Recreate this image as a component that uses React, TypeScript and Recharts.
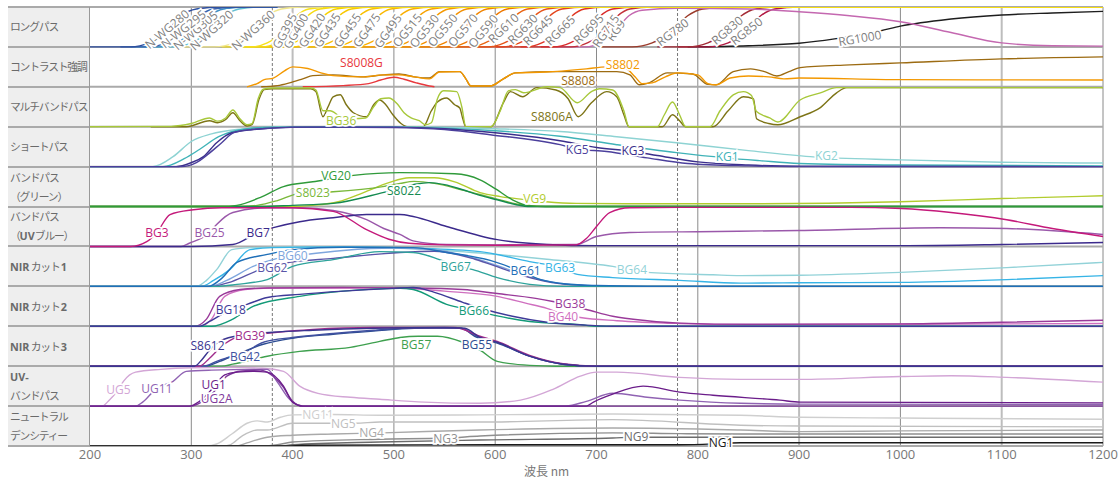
import React from 'react';
import { LineChart, Line, XAxis, YAxis, ReferenceLine, ReferenceDot } from 'recharts';

type Pt = [number, number];
interface Curve { name: string; pts: Pt[] }

// wavelength axis (nm)
const wavelengthTicks = [200, 300, 400, 500, 600, 700, 800, 900, 1000, 1100, 1200];

const rowTitles = [
  'ロングパス',
  'コントラスト強調',
  'マルチバンドパス',
  'ショートパス',
  'バンドパス\n（グリーン）',
  'バンドパス\n（UVブルー）',
  'NIR カット 1',
  'NIR カット 2',
  'NIR カット 3',
  'UV-\nバンドパス',
  'ニュートラル\nデンシティー',
];

// transmission curves, [wavelength nm, transmission %]
const longPass: Curve[] = [
  { name: 'N-WG280', pts: [[200, 0], [240, 0], [258, 10], [276, 42], [290, 78], [305, 95], [330, 100], [385, 100]] },
  { name: 'N-WG295', pts: [[230, 0], [258, 0], [275, 10], [294, 42], [308, 78], [322, 95], [345, 100], [385, 100]] },
  { name: 'N-WG305', pts: [[240, 0], [268, 0], [285, 10], [304, 42], [318, 78], [332, 95], [355, 100], [385, 100]] },
  { name: 'N-WG320', pts: [[250, 0], [282, 0], [300, 10], [319, 42], [333, 78], [347, 95], [368, 100], [385, 100]] },
  { name: 'N-WG360', pts: [[290, 0], [323, 0], [342, 10], [361, 42], [375, 78], [389, 95], [410, 100], [430, 100]] },
  { name: 'GG395', pts: [[330, 0], [360, 0], [375, 10], [392, 42], [404, 78], [416, 95], [440, 100], [1200, 100]] },
  { name: 'GG400', pts: [[340, 0], [370, 0], [385, 10], [403, 42], [415, 78], [427, 95], [450, 100], [1200, 100]] },
  { name: 'GG420', pts: [[355, 0], [385, 0], [401, 10], [419, 42], [431, 78], [443, 95], [465, 100], [1200, 100]] },
  { name: 'GG435', pts: [[370, 0], [400, 0], [416, 10], [434, 42], [446, 78], [458, 95], [480, 100], [1200, 100]] },
  { name: 'GG455', pts: [[390, 0], [420, 0], [436, 10], [454, 42], [466, 78], [478, 95], [500, 100], [1200, 100]] },
  { name: 'GG475', pts: [[410, 0], [440, 0], [455, 10], [473, 42], [485, 78], [497, 95], [520, 100], [1200, 100]] },
  { name: 'GG495', pts: [[430, 0], [460, 0], [476, 10], [494, 42], [506, 78], [518, 95], [540, 100], [1200, 100]] },
  { name: 'OG515', pts: [[450, 0], [480, 0], [495, 10], [513, 42], [525, 78], [537, 95], [560, 100], [1200, 100]] },
  { name: 'OG530', pts: [[465, 0], [495, 0], [512, 10], [530, 42], [542, 78], [554, 95], [575, 100], [1200, 100]] },
  { name: 'OG550', pts: [[485, 0], [515, 0], [530, 10], [548, 42], [560, 78], [572, 95], [595, 100], [1200, 100]] },
  { name: 'OG570', pts: [[505, 0], [535, 0], [550, 10], [568, 42], [580, 78], [592, 95], [615, 100], [1200, 100]] },
  { name: 'OG590', pts: [[525, 0], [555, 0], [570, 10], [588, 42], [600, 78], [612, 95], [635, 100], [1200, 100]] },
  { name: 'RG610', pts: [[545, 0], [575, 0], [590, 10], [608, 42], [620, 78], [632, 95], [655, 100], [1200, 100]] },
  { name: 'RG630', pts: [[560, 0], [592, 0], [609, 10], [627, 42], [639, 78], [651, 95], [675, 100], [1200, 100]] },
  { name: 'RG645', pts: [[575, 0], [607, 0], [624, 10], [642, 42], [654, 78], [666, 95], [690, 100], [1200, 100]] },
  { name: 'RG665', pts: [[600, 0], [630, 0], [646, 10], [664, 42], [676, 78], [688, 95], [710, 100], [1200, 100]] },
  { name: 'RG695', pts: [[625, 0], [657, 0], [674, 10], [692, 42], [704, 78], [716, 95], [740, 100], [1200, 100]] },
  { name: 'RG715', pts: [[645, 0], [675, 0], [691, 10], [709, 42], [721, 78], [733, 95], [755, 100], [1200, 100]] },
  { name: 'RG9', pts: [[660, 0], [690, 0], [703, 10], [719, 42], [732, 78], [745, 92], [780, 97], [850, 95], [900, 88], [950, 78], [1000, 63], [1050, 36], [1100, 10], [1150, 3], [1200, 2]] },
  { name: 'RG780', pts: [[700, 0], [735, 0], [755, 10], [775, 42], [790, 78], [805, 95], [830, 100], [1200, 100]] },
  { name: 'RG830', pts: [[760, 0], [790, 0], [810, 10], [829, 42], [843, 78], [857, 95], [880, 100], [1200, 100]] },
  { name: 'RG850', pts: [[780, 0], [810, 0], [830, 10], [848, 42], [862, 78], [876, 95], [900, 100], [1200, 100]] },
  { name: 'RG1000', pts: [[790, 0], [850, 3], [900, 9], [935, 20], [980, 40], [1000, 52], [1050, 70], [1100, 80], [1150, 85], [1200, 89]] },
];

const contrast: Curve[] = [
  { name: 'S8008G', pts: [[410, 0], [450, 3], [475, 8], [487, 17], [500, 24], [510, 19], [522, 10], [535, 2], [540, 0]] },
  { name: 'S8808', pts: [[369, 0], [385, 3], [397, 10], [410, 20], [420, 28], [440, 30], [470, 25], [490, 30], [505, 32], [520, 25], [535, 22], [545, 38], [565, 38], [571, 20], [576, 2], [595, 2], [608, 20], [620, 35], [660, 38], [700, 38], [720, 38], [733, 30], [742, 5], [752, 10], [770, 35], [795, 32], [810, 6], [818, 5], [835, 38], [852, 45], [866, 38], [878, 27], [890, 38], [901, 48], [950, 55], [1000, 60], [1100, 70], [1200, 75]] },
  { name: 'S8802', pts: [[355, 0], [365, 8], [372, 18], [381, 22], [392, 40], [400, 50], [415, 46], [428, 35], [440, 28], [470, 25], [490, 30], [505, 30], [520, 25], [535, 20], [545, 37], [565, 38], [571, 20], [576, 2], [595, 2], [608, 20], [620, 35], [650, 37], [690, 45], [710, 50], [728, 47], [738, 25], [745, 8], [755, 10], [768, 25], [780, 35], [800, 30], [810, 8], [818, 5], [832, 22], [850, 27], [870, 25], [885, 20], [900, 22], [1000, 18], [1200, 17]] },
];

const multiBand: Curve[] = [
  { name: 'S8806A', pts: [[260, 0], [295, 0], [318, 15], [326, 10], [334, 18], [341, 35], [348, 15], [355, 2], [360, 5], [367, 70], [372, 93], [380, 95], [418, 95], [423, 88], [430, 25], [435, 50], [440, 75], [447, 80], [453, 55], [460, 35], [473, 25], [480, 55], [486, 67], [492, 55], [499, 30], [507, 8], [513, 0], [529, 0], [537, 40], [543, 62], [552, 72], [560, 55], [565, 47], [568, 20], [571, 0], [596, 0], [608, 60], [615, 88], [627, 75], [641, 98], [660, 92], [672, 70], [682, 25], [695, 60], [710, 88], [720, 75], [727, 30], [732, 0], [765, 0], [775, 30], [782, 15], [788, 0], [815, 0], [830, 40], [845, 75], [855, 70], [858, 20], [870, 8], [879, 5], [901, 25], [921, 48], [937, 85], [947, 98], [1200, 98]] },
  { name: 'BG36', pts: [[200, 0], [280, 1], [300, 8], [318, 22], [326, 14], [334, 22], [341, 42], [348, 20], [355, 5], [360, 8], [366, 70], [371, 94], [380, 97], [418, 97], [423, 92], [430, 40], [437, 40], [447, 26], [460, 20], [472, 22], [480, 50], [487, 70], [495, 72], [503, 58], [510, 35], [517, 22], [525, 15], [531, 5], [537, 10], [543, 70], [549, 90], [562, 88], [567, 50], [571, 0], [596, 0], [605, 40], [613, 90], [620, 93], [628, 85], [651, 100], [664, 98], [681, 60], [695, 88], [703, 95], [716, 92], [727, 40], [732, 0], [760, 0], [767, 30], [775, 62], [782, 30], [788, 0], [812, 0], [822, 40], [835, 80], [845, 88], [853, 78], [858, 38], [871, 22], [879, 12], [901, 67], [921, 85], [937, 98], [1200, 98]] },
];

const shortPass: Curve[] = [
  { name: 'KG2', pts: [[200, 0], [262, 0], [282, 25], [300, 63], [320, 82], [345, 93], [370, 98], [400, 100], [500, 100], [600, 95], [664, 88], [720, 75], [779, 60], [850, 40], [911, 25], [1000, 17], [1100, 11], [1200, 9]] },
  { name: 'KG1', pts: [[200, 0], [272, 0], [293, 20], [308, 43], [327, 75], [355, 95], [380, 99], [500, 99], [600, 90], [664, 76], [720, 55], [779, 35], [827, 22], [861, 15], [900, 8], [1000, 4], [1200, 2]] },
  { name: 'KG3', pts: [[200, 0], [285, 0], [300, 10], [312, 25], [325, 60], [340, 85], [370, 95], [400, 99], [500, 99], [550, 95], [600, 85], [664, 65], [700, 48], [736, 38], [760, 28], [800, 12], [850, 4], [900, 1], [1200, 0]] },
  { name: 'KG5', pts: [[200, 0], [290, 0], [305, 10], [316, 30], [330, 60], [342, 85], [360, 93], [377, 96], [420, 99], [500, 98], [550, 93], [595, 80], [664, 55], [681, 44], [710, 38], [750, 22], [790, 8], [850, 2], [900, 0], [1200, 0]] },
];

const greenBand: Curve[] = [
  { name: 'VG9', pts: [[200, 0], [395, 0], [420, 3], [445, 12], [470, 35], [495, 60], [515, 72], [540, 72], [560, 62], [585, 35], [605, 25], [627, 18], [650, 12], [680, 8], [750, 7], [850, 7], [1000, 12], [1100, 20], [1200, 27]] },
  { name: 'S8023', pts: [[200, 0], [350, 0], [365, 3], [385, 15], [407, 33], [440, 37], [489, 50], [506, 58], [520, 63], [540, 58], [570, 40], [600, 20], [625, 5], [650, 0], [1200, 0]] },
  { name: 'S8022', pts: [[200, 0], [370, 0], [400, 3], [440, 8], [489, 35], [519, 55], [535, 60], [550, 55], [568, 42], [585, 28], [602, 17], [620, 5], [635, 0], [1200, 0]] },
  { name: 'VG20', pts: [[200, 0], [330, 0], [345, 3], [370, 25], [391, 50], [420, 62], [460, 78], [506, 85], [560, 82], [585, 67], [600, 45], [617, 17], [632, 3], [650, 0], [1200, 0]] },
];

const uvBlueBand: Curve[] = [
  { name: 'BG25', pts: [[200, 0], [290, 0], [298, 8], [318, 35], [325, 55], [341, 85], [375, 97], [407, 97], [440, 90], [473, 67], [490, 45], [506, 30], [519, 14], [552, 5], [600, 4], [680, 5], [700, 25], [733, 35], [800, 37], [900, 40], [1039, 47], [1105, 45], [1200, 30]] },
  { name: 'BG7', pts: [[200, 0], [300, 0], [341, 5], [366, 35], [381, 47], [407, 62], [440, 72], [473, 80], [506, 80], [519, 75], [552, 50], [602, 17], [651, 5], [700, 2], [1000, 2], [1100, 5], [1200, 10]] },
  { name: 'BG3', pts: [[200, 0], [240, 0], [256, 12], [266, 35], [279, 80], [302, 92], [330, 97], [400, 97], [440, 88], [473, 42], [495, 18], [515, 8], [550, 4], [600, 3], [680, 4], [690, 20], [700, 50], [713, 85], [733, 97], [800, 98], [950, 98], [1001, 95], [1050, 85], [1105, 67], [1150, 45], [1200, 25]] },
];

const nirCut1: Curve[] = [
  { name: 'BG64', pts: [[200, 0], [305, 0], [315, 15], [325, 42], [340, 92], [360, 97], [400, 99], [480, 97], [550, 90], [651, 68], [716, 50], [750, 35], [815, 29], [842, 27], [901, 28], [1000, 35], [1105, 47], [1200, 60]] },
  { name: 'BG63', pts: [[200, 0], [310, 0], [322, 15], [338, 42], [358, 92], [380, 97], [450, 99], [520, 96], [585, 87], [634, 62], [664, 47], [681, 30], [716, 22], [782, 15], [842, 8], [900, 9], [1000, 10], [1105, 17], [1200, 27]] },
  { name: 'BG60', pts: [[200, 0], [318, 0], [335, 15], [361, 50], [385, 70], [413, 80], [450, 90], [500, 96], [540, 92], [580, 70], [610, 45], [640, 20], [670, 6], [720, 0], [1200, 0]] },
  { name: 'BG62', pts: [[200, 0], [320, 0], [340, 12], [368, 42], [382, 52], [397, 60], [440, 70], [506, 85], [540, 88], [580, 68], [610, 42], [640, 18], [670, 5], [720, 0], [1200, 0]] },
  { name: 'BG67', pts: [[200, 0], [325, 0], [345, 5], [375, 17], [400, 50], [440, 67], [486, 87], [519, 85], [545, 67], [561, 52], [578, 42], [602, 22], [634, 5], [667, 0], [1200, 0]] },
  { name: 'BG61', pts: [[200, 0], [317, 0], [330, 20], [345, 60], [375, 80], [400, 92], [450, 98], [519, 97], [552, 85], [595, 65], [618, 45], [645, 17], [670, 6], [700, 2], [750, 0], [1200, 0]] },
];

const nirCut2: Curve[] = [
  { name: 'BG40', pts: [[200, 0], [308, 0], [320, 18], [333, 75], [353, 92], [380, 96], [500, 96], [550, 88], [602, 75], [630, 58], [651, 45], [667, 30], [684, 22], [720, 14], [782, 7], [850, 4], [1000, 5], [1200, 7]] },
  { name: 'BG38', pts: [[200, 0], [303, 0], [315, 18], [328, 75], [348, 92], [375, 96], [450, 97], [520, 96], [568, 92], [602, 82], [640, 70], [657, 62], [690, 42], [716, 25], [750, 14], [782, 8], [850, 5], [1000, 6], [1100, 10], [1200, 15]] },
  { name: 'BG66', pts: [[200, 0], [320, 0], [341, 18], [361, 50], [407, 75], [450, 88], [506, 95], [519, 92], [552, 55], [579, 40], [602, 26], [634, 12], [684, 4], [700, 0], [1200, 0]] },
  { name: 'BG18', pts: [[200, 0], [308, 0], [318, 12], [339, 42], [355, 55], [375, 72], [407, 80], [450, 88], [500, 95], [519, 97], [540, 85], [568, 60], [590, 42], [617, 25], [651, 10], [690, 3], [720, 0], [1200, 0]] },
];

const nirCut3: Curve[] = [
  { name: 'BG57', pts: [[200, 0], [330, 0], [341, 5], [375, 25], [407, 37], [457, 47], [486, 62], [506, 72], [524, 75], [543, 75], [568, 60], [585, 40], [602, 12], [634, 2], [660, 0], [1200, 0]] },
  { name: 'BG55', pts: [[200, 0], [314, 0], [328, 12], [345, 30], [371, 55], [400, 70], [440, 80], [480, 88], [520, 95], [565, 96], [582, 72], [602, 58], [634, 25], [667, 5], [700, 0], [1200, 0]] },
  { name: 'BG42', pts: [[200, 0], [312, 0], [325, 12], [340, 25], [353, 35], [371, 60], [400, 72], [440, 82], [480, 90], [520, 96], [565, 95], [585, 72], [602, 60], [634, 25], [667, 5], [700, 0], [1200, 0]] },
  { name: 'BG39', pts: [[200, 0], [308, 0], [318, 20], [330, 50], [345, 72], [358, 77], [385, 85], [420, 92], [480, 97], [560, 97], [585, 75], [602, 62], [634, 27], [667, 6], [700, 0], [1200, 0]] },
  { name: 'S8612', pts: [[200, 0], [303, 0], [310, 15], [318, 40], [330, 65], [350, 78], [380, 85], [420, 90], [480, 95], [550, 97], [570, 95], [585, 72], [602, 60], [634, 25], [667, 5], [700, 0], [1200, 0]] },
];

const uvBand: Curve[] = [
  { name: 'UG5', pts: [[200, 0], [212, 0], [218, 12], [228, 42], [233, 62], [245, 85], [270, 92], [300, 96], [330, 97], [370, 95], [391, 87], [407, 50], [425, 32], [457, 22], [486, 17], [530, 10], [585, 7], [625, 15], [657, 42], [684, 75], [700, 85], [720, 85], [782, 72], [842, 67], [901, 67], [1000, 74], [1050, 76], [1105, 72], [1200, 60]] },
  { name: 'UG11', pts: [[200, 0], [245, 0], [252, 10], [266, 45], [282, 62], [295, 87], [320, 90], [375, 92], [385, 60], [397, 17], [405, 3], [415, 0], [670, 0], [690, 12], [716, 32], [750, 22], [782, 15], [842, 7], [900, 5], [1200, 4]] },
  { name: 'UG2A', pts: [[200, 0], [300, 0], [310, 10], [322, 35], [335, 75], [350, 88], [368, 90], [378, 80], [390, 50], [400, 12], [410, 0], [1200, 0]] },
  { name: 'UG1', pts: [[200, 0], [298, 0], [308, 12], [322, 47], [333, 78], [345, 85], [361, 87], [375, 85], [391, 50], [400, 10], [410, 0], [690, 0], [697, 10], [716, 30], [746, 50], [782, 35], [815, 27], [881, 15], [901, 10], [1200, 8]] },
];

const neutral: Curve[] = [
  { name: 'NG11', pts: [[200, 0], [315, 0], [325, 5], [340, 30], [355, 57], [365, 63], [375, 60], [388, 72], [400, 78], [440, 79], [486, 77], [585, 78], [716, 80], [842, 77], [901, 72], [1000, 70], [1200, 67]] },
  { name: 'NG5', pts: [[200, 0], [330, 0], [338, 3], [350, 25], [365, 40], [375, 40], [400, 57], [462, 57], [486, 60], [585, 60], [716, 66], [842, 52], [901, 50], [1200, 48]] },
  { name: 'NG4', pts: [[200, 0], [345, 0], [355, 8], [375, 22], [400, 27], [440, 30], [489, 33], [585, 40], [716, 45], [842, 40], [901, 36], [1000, 38], [1200, 40]] },
  { name: 'NG3', pts: [[200, 0], [370, 0], [385, 3], [400, 10], [486, 17], [551, 20], [585, 25], [716, 33], [782, 31], [842, 30], [1200, 30]] },
  { name: 'NG9', pts: [[200, 0], [385, 0], [400, 3], [486, 10], [585, 15], [716, 20], [739, 22], [842, 22], [1200, 22]] },
  { name: 'NG1', pts: [[200, 0], [395, 0], [410, 2], [600, 3], [782, 3], [823, 6], [842, 8], [1200, 8]] },
];

const rows: Curve[][] = [longPass, contrast, multiBand, shortPass, greenBand, uvBlueBand, nirCut1, nirCut2, nirCut3, uvBand, neutral];

const COLORS: Record<string, string> = {
  'N-WG280': '#2e4f9f', 'N-WG295': '#3763ae', 'N-WG305': '#3f8fc4', 'N-WG320': '#63bfd3', 'N-WG360': '#f0e68c',
  GG395: '#f7e11a', GG400: '#f6d90f', GG420: '#f7d000', GG435: '#f8c800', GG455: '#f9c000', GG475: '#f9b800', GG495: '#f9ae00',
  OG515: '#f7a200', OG530: '#f59900', OG550: '#f38f00', OG570: '#f18400', OG590: '#ee7800',
  RG610: '#ea6412', RG630: '#e65318', RG645: '#e3441c', RG665: '#df3522', RG695: '#d92a2a',
  RG715: '#c2303a', RG9: '#c468b0', RG780: '#9b3a2a', RG830: '#a32a35', RG850: '#b01640', RG1000: '#1e1e1e',
  S8008G: '#e8383d', S8802: '#f39800', S8808: '#9c6b12',
  BG36: '#a7c83a', S8806A: '#7d7416',
  KG5: '#4b3f9c', KG3: '#3b2f8c', KG1: '#40b3b8', KG2: '#8ed3d3',
  VG20: '#2f9a3a', S8023: '#79b83a', S8022: '#148a50', VG9: '#b2cc2e',
  BG3: '#c4197a', BG25: '#9a58aa', BG7: '#3b2a8c',
  BG60: '#7ea6dd', BG62: '#5a55a8', BG67: '#2ea39b', BG61: '#1f6fb8', BG63: '#36b4e6', BG64: '#92d2d8',
  BG18: '#3e3a98', BG66: '#139a78', BG38: '#9a3a9a', BG40: '#cf6fbf',
  S8612: '#3a3590', BG39: '#a02d8c', BG42: '#4050a0', BG55: '#2d4d92', BG57: '#3ea04e',
  UG5: '#d3a6d6', UG11: '#9063b3', UG1: '#6b1d8a', UG2A: '#7f3a9c',
  NG11: '#cfcfcf', NG5: '#c0c0c0', NG4: '#a9a9a9', NG3: '#8f8f8f', NG9: '#6b6b6b', NG1: '#1a1a1a',
};

// label placement: [wavelength, transmission %, rotation]
const LABELS: Record<string, [number, number, number]> = {
  'N-WG280': [276, 45, -40], 'N-WG295': [292, 45, -38], 'N-WG305': [304, 42, -40], 'N-WG320': [320, 42, -42], 'N-WG360': [361, 42, -42],
  GG395: [392, 40, -62], GG400: [403, 40, -60], GG420: [419, 42, -56], GG435: [434, 42, -56], GG455: [454, 42, -55], GG475: [473, 42, -55], GG495: [494, 40, -55],
  OG515: [513, 42, -51], OG530: [530, 40, -51], OG550: [548, 42, -50], OG570: [568, 42, -50], OG590: [588, 40, -50],
  RG610: [608, 47, -43], RG630: [627, 45, -45], RG645: [642, 42, -45], RG665: [664, 42, -45], RG695: [692, 45, -45],
  RG715: [709, 40, -55], RG9: [719, 42, -55], RG780: [775, 37, -37], RG830: [829, 42, -40], RG850: [848, 40, -38], RG1000: [960, 22, -10],
  S8008G: [468, 60, 0], S8802: [726, 57, 0], S8808: [682, 17, 0],
  BG36: [448, 15, 0], S8806A: [656, 25, 0],
  KG5: [681, 42, 0], KG3: [736, 40, 0], KG1: [829, 25, 0], KG2: [927, 28, 0],
  VG20: [443, 77, 0], S8023: [420, 35, 0], S8022: [510, 40, 0], VG9: [639, 20, 0],
  BG3: [266, 35, 0], BG25: [318, 35, 0], BG7: [366, 35, 0],
  BG60: [400, 77, 0], BG62: [380, 48, 0], BG67: [561, 50, 0], BG61: [630, 40, 0], BG63: [664, 47, 0], BG64: [735, 42, 0],
  BG18: [339, 42, 0], BG66: [579, 40, 0], BG38: [674, 57, 0], BG40: [667, 25, 0],
  S8612: [316, 52, 0], BG39: [358, 77, 0], BG42: [353, 25, 0], BG57: [522, 55, 0], BG55: [582, 55, 0],
  UG5: [228, 42, 0], UG11: [266, 45, 0], UG1: [322, 54, 0], UG2A: [325, 19, 0],
  NG11: [425, 79, 0], NG5: [450, 56, 0], NG4: [478, 33, 0], NG3: [551, 20, 0], NG9: [739, 23, 0], NG1: [823, 10, 0],
};

const FONT = "'Open Sans', 'Noto Sans', sans-serif";
const JP_FONT = "'Noto Sans CJK JP', 'Noto Sans', sans-serif";
const TOP = 7;
const ROW_PX = 439 / rows.length;

const renderTitle = (t: string) =>
  t.split(/([A-Za-z0-9-]+)/).map((part, i) =>
    /[A-Za-z0-9]/.test(part) ? <b key={i} style={{ fontFamily: FONT, fontWeight: 700, letterSpacing: 0 }}>{part}</b> : <span key={i}>{part}</span>
  );

export default function App() {
  const n = rows.length;
  const series = rows.flatMap((row, r) => {
    const base = (n - 1 - r) * 100;
    const ordered = r === 0 ? [...row].reverse() : row;
    return ordered.map((c) => ({
      name: c.name,
      base,
      rotated: r === 0,
      data: c.pts.map(([x, t]) => ({ x, y: base + t })),
    }));
  });

  const vLines = [300, 400, 500, 600, 700, 800, 900, 1000, 1100, 1200];
  const light = [400, 900, 1100];

  return (
    <div style={{ position: 'relative', width: 1119, height: 478, background: '#fff' }}>
      <style>{'body{margin:0}'}</style>
      <div style={{ position: 'absolute', left: 8, top: TOP, width: 82, height: 439, background: '#eeeeee' }} />
      {rowTitles.map((t, i) => (
        <div
          key={t}
          style={{
            position: 'absolute', left: 10, top: TOP + i * ROW_PX, height: ROW_PX, width: 80,
            display: 'flex', alignItems: 'center', whiteSpace: 'pre', overflow: 'visible',
            fontSize: 10.8, lineHeight: '19px', letterSpacing: '-1.2px', color: '#6a6a6a', fontFamily: JP_FONT,
          }}
        >
          <div>{renderTitle(t)}</div>
        </div>
      ))}
      {rowTitles.concat(['']).map((_, k) => (
        <div key={k} style={{ position: 'absolute', left: 8, top: TOP + k * ROW_PX - 1, width: 82, height: 2, background: '#aaaaaa' }} />
      ))}
      <div style={{ position: 'absolute', left: 89, top: TOP, width: 1, height: 439, background: '#999' }} />
      <div style={{ position: 'absolute', left: 0, top: 0 }}>
        <LineChart width={1119} height={478} margin={{ top: TOP, right: 16, bottom: 0, left: 90 }}>
          <XAxis
            type="number"
            dataKey="x"
            domain={[200, 1200]}
            ticks={wavelengthTicks}
            allowDataOverflow
            tickLine={false}
            axisLine={false}
            tickSize={0}
            tickMargin={4}
            height={32}
            tick={{ fontSize: 13, fill: '#777', fontFamily: FONT }}
            label={{ value: '波長 nm', position: 'insideBottom', offset: 2, dx: -50, fontSize: 12, fill: '#777', fontFamily: JP_FONT }}
          />
          <YAxis type="number" domain={[0, n * 100]} hide allowDataOverflow />
          {vLines.map((x) => (
            <ReferenceLine
              key={`v${x}`}
              x={x}
              stroke={light.includes(x) ? '#bdbdbd' : '#8a8a8a'}
              strokeWidth={light.includes(x) ? 2 : 1}
            />
          ))}
          <ReferenceLine x={380} stroke="#777" strokeDasharray="3 2" />
          <ReferenceLine x={780} stroke="#777" strokeDasharray="3 2" />
          {rows.concat([[]]).map((_, k) => (
            <ReferenceLine key={`h${k}`} y={k * 100} stroke="#aaaaaa" strokeWidth={2} />
          ))}
          {series.map((s) => (
            <Line
              key={s.name}
              data={s.data}
              dataKey="y"
              name={s.name}
              type="monotone"
              stroke={COLORS[s.name]}
              strokeWidth={1.4}
              dot={false}
              activeDot={false}
              isAnimationActive={false}
            />
          ))}
          {series.filter((s) => LABELS[s.name]).map((s) => {
            const [lx, lt, angle] = LABELS[s.name];
            const color = s.rotated ? '#808080' : COLORS[s.name];
            return (
              <ReferenceDot
                key={`l${s.name}`}
                x={lx}
                y={s.base + lt}
                r={0}
                ifOverflow="visible"
                shape={(p: any) => (
                  <text
                    x={p.cx}
                    y={p.cy}
                    transform={angle ? `rotate(${angle} ${p.cx} ${p.cy})` : undefined}
                    textAnchor="middle"
                    dominantBaseline="central"
                    fontSize={12}
                    fontFamily={FONT}
                    fill={color}
                    stroke="#fff"
                    strokeWidth={3.5}
                    paintOrder="stroke"
                  >
                    {s.name}
                  </text>
                )}
              />
            );
          })}
        </LineChart>
      </div>
    </div>
  );
}
